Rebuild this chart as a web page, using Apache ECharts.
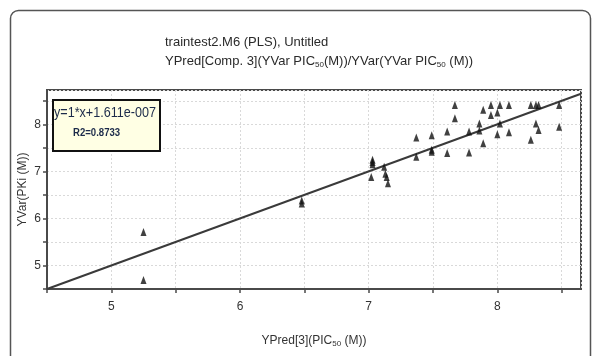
<!DOCTYPE html>
<html>
<head>
<meta charset="utf-8">
<script src="https://cdn.jsdelivr.net/npm/echarts@6/dist/echarts.min.js"></script>
<style>
html,body{margin:0;padding:0;background:#fff;}
#chart{width:595px;height:356px;}
</style>
</head>
<body>
<div id="chart"></div>
<script>
// ---- data ----
const predX = [5.25,5.25,6.48,6.48,7.03,7.03,7.03,7.02,7.12,7.13,7.14,7.15,7.37,7.37,7.49,7.49,7.49,7.61,7.61,7.67,7.67,7.78,7.78,7.86,7.86,7.89,7.89,7.95,7.95,8.00,8.00,8.02,8.02,8.09,8.09,8.26,8.26,8.30,8.30,8.32,8.32,8.48,8.48];
const obsY  = [5.71,4.69,6.38,6.32,7.25,7.20,7.15,6.88,7.10,6.95,6.88,6.75,7.72,7.31,7.77,7.46,7.42,7.85,7.39,8.41,8.13,7.85,7.40,8.02,7.87,8.31,7.60,8.41,8.20,8.25,7.79,8.41,8.02,8.41,7.83,8.41,7.67,8.41,8.02,8.41,7.88,8.41,7.95];
const slope = 1;
const intercept = 1.611e-7;
const r2 = 0.8733;
const xRange = [4.5, 8.65];
const yRange = [4.5, 8.73];
const tickStep = 0.5;
const titleLine1 = 'traintest2.M6 (PLS), Untitled';
const yName = 'YVar(PKi (M))';
const eqText = 'y=1*x+1.611e-007';
const r2Text = 'R2=' + r2;

const FONT = '"Liberation Sans",Arial,sans-serif';
const points = predX.map((x, i) => [x, obsY[i]]);
const lineEnd = Math.min(xRange[1], yRange[1]);
const regLine = [[xRange[0], slope * xRange[0] + intercept], [lineEnd, slope * lineEnd + intercept]];

const chart = echarts.init(document.getElementById('chart'), null, {renderer: 'canvas'});
const intOnly = v => (Math.abs(v - Math.round(v)) < 1e-6 ? String(Math.round(v)) : '');
const sub = {fontFamily: FONT, fontSize: 8, color: '#2a2a2a', padding: [6, 0, 0, 0]};

chart.setOption({
  animation: false,
  backgroundColor: '#ffffff',
  title: [{
    left: 160, top: 28,
    text: titleLine1 + '\n{a|YPred[Comp. 3](YVar PIC}{s|50}{a|(M))/YVar(YVar PIC}{s|50}{a| (M))}',
    textStyle: {
      fontFamily: FONT, fontSize: 13, fontWeight: 'normal', color: '#2a2a2a', lineHeight: 19,
      rich: {
        a: {fontFamily: FONT, fontSize: 13, color: '#2a2a2a', lineHeight: 19},
        s: Object.assign({lineHeight: 19}, sub)
      }
    }
  }],
  grid: {
    left: 47, right: 14, top: 90, bottom: 67,
    show: true, borderColor: '#4a4a4a', borderWidth: 2, backgroundColor: '#fff'
  },
  xAxis: {
    type: 'value', min: xRange[0], max: xRange[1], interval: tickStep,
    name: '{a|YPred[3](PIC}{s|50}{a| (M))}', nameLocation: 'middle', nameGap: 44,
    nameTextStyle: {
      fontFamily: FONT, fontSize: 12, color: '#333',
      rich: {a: {fontFamily: FONT, fontSize: 12, color: '#333', lineHeight: 16}, s: Object.assign({lineHeight: 16}, sub, {color: '#333'})}
    },
    axisLine: {show: true, lineStyle: {color: '#4a4a4a', width: 2}},
    axisTick: {show: true, inside: false, length: 4, lineStyle: {color: '#4a4a4a', width: 1.5}},
    axisLabel: {formatter: intOnly, fontFamily: FONT, fontSize: 12, color: '#333', margin: 12, showMaxLabel: false},
    splitLine: {show: true, lineStyle: {color: '#d9d9d9', type: [2, 2], width: 1}}
  },
  yAxis: {
    type: 'value', min: yRange[0], max: yRange[1], interval: tickStep,
    name: yName, nameLocation: 'middle', nameGap: 18, nameRotate: 90, nameMoveOverlap: false,
    nameTextStyle: {fontFamily: FONT, fontSize: 12, color: '#333'},
    axisLine: {show: true, lineStyle: {color: '#4a4a4a', width: 2}},
    axisTick: {show: true, inside: false, length: 4, lineStyle: {color: '#4a4a4a', width: 1.5}},
    axisLabel: {formatter: intOnly, fontFamily: FONT, fontSize: 12, color: '#333', margin: 6, showMaxLabel: false},
    splitLine: {show: true, lineStyle: {color: '#d9d9d9', type: [2, 2], width: 1}}
  },
  series: [
    {
      type: 'line', data: regLine, symbol: 'none', z: 2,
      lineStyle: {color: '#3a3a3a', width: 2}
    },
    {
      type: 'scatter', data: points, symbol: 'triangle', symbolSize: [6, 8], z: 3,
      itemStyle: {color: '#111'}
    }
  ],
  graphic: [
    {
      type: 'rect', left: 8, top: 8, z: 0, silent: true,
      shape: {width: 580, height: 360, r: 8},
      style: {fill: 'none', stroke: '#555', lineWidth: 1.5}
    },
    {
      type: 'rect', left: 52, top: 99, z: 100,
      shape: {width: 107, height: 51},
      style: {fill: '#ffffe4', stroke: '#111', lineWidth: 2}
    },
    {
      type: 'text', x: 54, y: 105, scaleX: 0.84, scaleY: 1, z: 101,
      style: {text: eqText, font: '15px ' + FONT, fill: '#1c2b4a'}
    },
    {
      type: 'text', x: 73, y: 127, scaleX: 0.87, scaleY: 1, z: 101,
      style: {text: r2Text, font: 'bold 11px ' + FONT, fill: '#1c2b4a'}
    }
  ]
});
</script>
</body>
</html>
